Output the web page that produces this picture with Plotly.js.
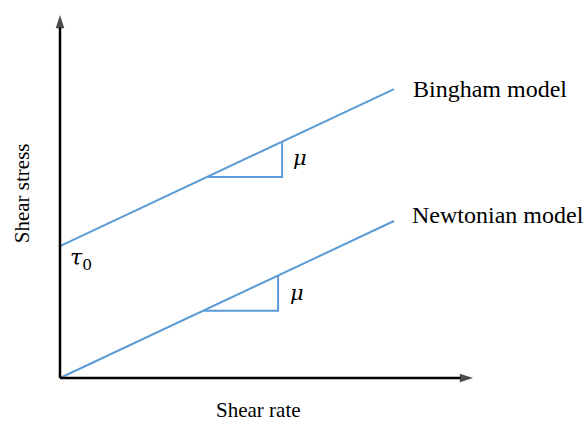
<!DOCTYPE html>
<html>
<head>
<meta charset="utf-8">
<script src="https://cdn.plot.ly/plotly-3.0.1.min.js"></script>
<style>html,body{margin:0;padding:0;background:#fff;}#chart{width:585px;height:424px;}</style>
</head>
<body>
<div id="chart"></div>
<script>
// Data
var shearRate = [0, 10];
var binghamStress = [3.95, 8.65];
var newtonianStress = [0, 4.70];
var binghamTriX = [4.43, 6.65, 6.65];
var binghamTriY = [6.02, 6.02, 7.08];
var newtonTriX = [4.31, 6.53, 6.53];
var newtonTriY = [2.01, 2.01, 3.07];
var axisXMax = 12.37;
var axisYMax = 10.87;
var labels = {bingham: 'Bingham model', newton: 'Newtonian model', xTitle: 'Shear rate', yTitle: 'Shear stress', mu: '<i>μ</i>', tau: '<i>τ</i><sub>0</sub>'};

var blue = '#5B9BD5';
var serif = '"Times New Roman", "Liberation Serif", serif';
var mathFont = '"Cambria Math", "DejaVu Serif", serif';
var lineStyle = {color: blue, width: 2};

var axisMarker = {symbol: ['circle', 'arrow'], size: [0, 14], color: '#000', angleref: 'previous', line: {width: 0}};

var traces = [
  {x: shearRate, y: binghamStress, mode: 'lines', line: lineStyle, hoverinfo: 'skip'},
  {x: shearRate, y: newtonianStress, mode: 'lines', line: lineStyle, hoverinfo: 'skip'},
  {x: binghamTriX, y: binghamTriY, mode: 'lines', line: lineStyle, hoverinfo: 'skip'},
  {x: newtonTriX, y: newtonTriY, mode: 'lines', line: lineStyle, hoverinfo: 'skip'},
  {x: [0, axisXMax], y: [0, 0], mode: 'lines+markers', line: {color: '#000', width: 2.5}, marker: axisMarker, hoverinfo: 'skip'},
  {x: [0, 0], y: [0, axisYMax], mode: 'lines+markers', line: {color: '#000', width: 2.5}, marker: axisMarker, hoverinfo: 'skip'}
];

function label(x, y, text, size, xanchor, family, extra) {
  var a = {x: x, y: y, xref: 'x', yref: 'y', text: text, showarrow: false, xanchor: xanchor || 'left', yanchor: 'middle',
    font: {family: family || serif, size: size, color: '#000'}};
  if (extra) for (var k in extra) a[k] = extra[k];
  return a;
}

var layout = {
  width: 585, height: 424,
  margin: {l: 0, r: 0, t: 0, b: 0},
  paper_bgcolor: '#fff', plot_bgcolor: '#fff',
  showlegend: false,
  xaxis: {range: [-1.796, 15.719], visible: false, fixedrange: true},
  yaxis: {range: [-1.377, 11.317], visible: false, fixedrange: true},
  annotations: [
    label(10.51, 8.65, labels.bingham, 24),
    label(10.48, 4.88, labels.newton, 24),
    label(7.19, 6.59, labels.mu, 21, 'center', mathFont),
    label(7.10, 2.54, labels.mu, 21, 'center', mathFont),
    label(0.62, 3.56, labels.tau, 22, 'center', mathFont),
    label(5.93, -0.95, labels.xTitle, 21, 'center'),
    label(-1.14, 5.53, labels.yTitle, 21, 'center', serif, {textangle: -90})
  ]
};

Plotly.newPlot('chart', traces, layout, {staticPlot: true, displayModeBar: false});
</script>
</body>
</html>
